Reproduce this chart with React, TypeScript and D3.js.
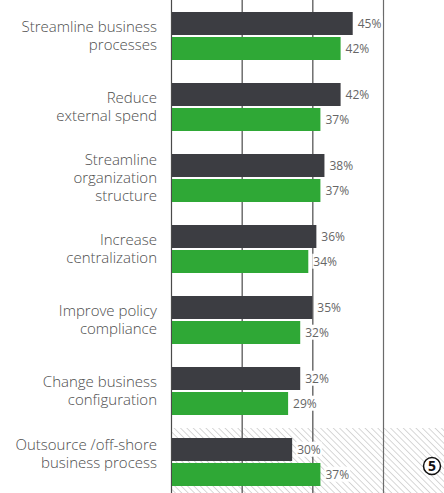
import * as d3 from "d3";
import { useEffect, useRef } from "react";

const categories = [
  "Streamline business processes",
  "Reduce external spend",
  "Streamline organization structure",
  "Increase centralization",
  "Improve policy compliance",
  "Change business configuration",
  "Outsource /off-shore business process",
];
const labelLines = [
  ["Streamline business", "processes"],
  ["Reduce", "external spend"],
  ["Streamline", "organization", "structure"],
  ["Increase", "centralization"],
  ["Improve policy", "compliance"],
  ["Change business", "configuration"],
  ["Outsource /off-shore", "business process"],
];
const seriesDark = [45, 42, 38, 36, 35, 32, 30];
const seriesGreen = [42, 37, 37, 34, 32, 29, 37];
const gridTicks = [0, 17.5, 35, 52.5];

export default function App() {
  const svgRef = useRef<SVGSVGElement>(null);

  useEffect(() => {
    if (!svgRef.current) return;
    d3.select(svgRef.current).selectAll("*").remove();
    const svg = d3.select(svgRef.current);
    const width = 444;
    const height = 493;

    const x = d3.scaleLinear().domain([0, 52.5]).range([171, 383]);
    const y = d3.scalePoint<string>().domain(categories).range([36, 462]);
    const sub = d3
      .scaleBand<string>()
      .domain(["dark", "green"])
      .range([-24, 24])
      .paddingInner(0.08);

    // hatch pattern for the highlighted last row
    const defs = svg.append("defs");
    const pattern = defs
      .append("pattern")
      .attr("id", "hatch")
      .attr("patternUnits", "userSpaceOnUse")
      .attr("width", 4.5)
      .attr("height", 4.5)
      .attr("patternTransform", "rotate(-45)");
    pattern
      .append("line")
      .attr("x1", 0)
      .attr("y1", 0)
      .attr("x2", 0)
      .attr("y2", 4.5)
      .attr("stroke", "#bcbcbc")
      .attr("stroke-width", 1.2);

    const lastY = y(categories[categories.length - 1])! - 34;
    svg
      .append("rect")
      .attr("x", x(0))
      .attr("y", lastY)
      .attr("width", width - x(0))
      .attr("height", height - lastY)
      .attr("fill", "url(#hatch)");

    // grid lines
    svg
      .append("g")
      .selectAll("line")
      .data(gridTicks)
      .enter()
      .append("line")
      .attr("x1", (d) => x(d) + 0.5)
      .attr("x2", (d) => x(d) + 0.5)
      .attr("y1", 0)
      .attr("y2", height)
      .attr("stroke", (d) => (d === 52.5 ? "#6b6b6b" : "#4a4a4a"))
      .attr("stroke-width", 1.2);

    const groups = svg
      .append("g")
      .selectAll("g")
      .data(categories)
      .enter()
      .append("g")
      .attr("transform", (d) => `translate(0,${y(d)})`);

    const series = [
      { key: "dark", values: seriesDark, color: "#3c3d42" },
      { key: "green", values: seriesGreen, color: "#2fa836" },
    ];

    groups.each(function (cat, i) {
      const g = d3.select(this);
      series.forEach((s) => {
        const v = s.values[i];
        g.append("rect")
          .attr("x", x(0) + 1)
          .attr("y", sub(s.key)!)
          .attr("width", x(v) - x(0) - 1)
          .attr("height", sub.bandwidth())
          .attr("fill", s.color);
        const bg = g.append("rect").attr("fill", "white");
        const t = g
          .append("text")
          .attr("x", x(v) + 5)
          .attr("y", sub(s.key)! + sub.bandwidth() / 2)
          .attr("dy", "0.35em")
          .attr("fill", "#666")
          .style("font-family", "'Open Sans', sans-serif")
          .style("font-size", "12px")
          .text(`${v}%`);
        const bb = (t.node() as SVGTextElement).getBBox();
        bg.attr("x", bb.x - 1)
          .attr("y", bb.y + 1)
          .attr("width", bb.width + 2)
          .attr("height", bb.height - 2);
      });

      const lines = labelLines[i];
      const lh = 18;
      const shift = i === categories.length - 1 ? -8 : 0;
      const text = g
        .append("text")
        .attr("x", 157)
        .attr("text-anchor", "end")
        .attr("fill", "#4d4d4d")
        .style("font-family", "'Open Sans', sans-serif")
        .style("font-size", "15px")
        .style("font-weight", "300");
      lines.forEach((ln, j) => {
        text
          .append("tspan")
          .attr("x", 157)
          .attr("y", (j - (lines.length - 1) / 2) * lh + shift)
          .attr("dy", "0.35em")
          .text(ln);
      });
    });

    // circled marker
    const mk = svg.append("g").attr("transform", "translate(432,466)");
    mk.append("circle")
      .attr("r", 8.5)
      .attr("fill", "white")
      .attr("stroke", "#111")
      .attr("stroke-width", 1.5);
    mk.append("text")
      .attr("text-anchor", "middle")
      .attr("dy", "0.36em")
      .attr("fill", "#111")
      .style("font-family", "'Open Sans', sans-serif")
      .style("font-size", "14px")
      .style("font-weight", "700")
      .text("5");
  }, []);

  return (
    <svg
      ref={svgRef}
      width={444}
      height={493}
      style={{ position: "absolute", left: 0, top: 0, background: "white" }}
    />
  );
}
